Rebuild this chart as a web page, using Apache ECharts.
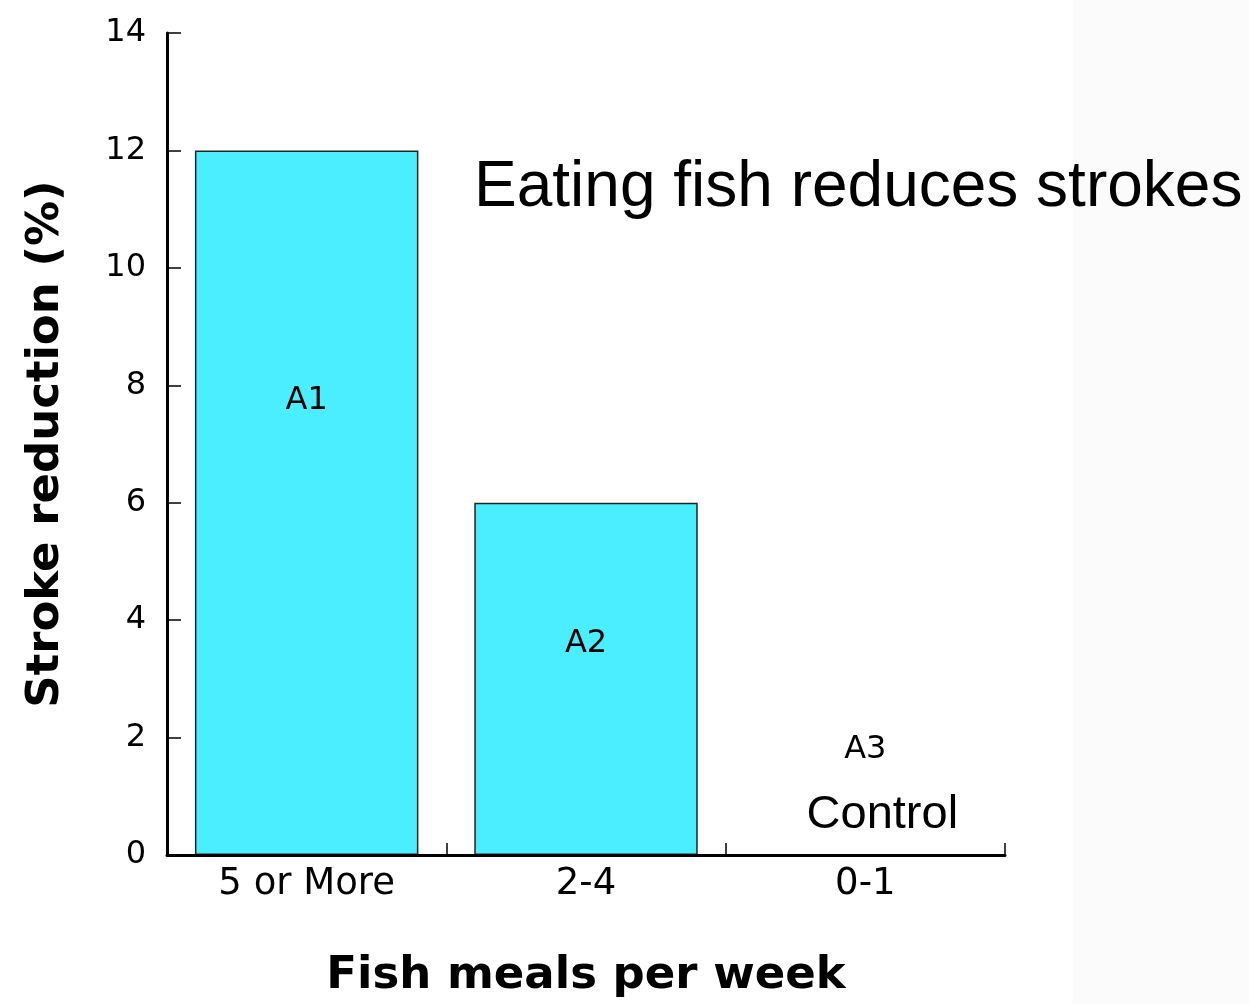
<!DOCTYPE html>
<html>
<head>
<meta charset="utf-8">
<title>Eating fish reduces strokes</title>
<script src="https://cdn.jsdelivr.net/npm/echarts@6/dist/echarts.min.js"></script>
<style>
  html, body { margin: 0; padding: 0; background: #ffffff; }
  #chart { width: 1249px; height: 1004px; }
</style>
</head>
<body>
<div id="chart"></div>
<script>
// Fish meal groups and the stroke reduction measured in each
const categories = ['5 or More', '2-4', '0-1'];
const strokeReduction = [12, 6, 0];
const groupLabels = ['A1', 'A2', 'A3'];
const yTicks = [0, 2, 4, 6, 8, 10, 12, 14];

const handFont = '"DejaVu Sans", sans-serif';
const plainFont = '"Liberation Sans", Arial, sans-serif';

const chart = echarts.init(document.getElementById('chart'), null, { renderer: 'canvas' });

// label placement per bar: inside the two tall bars, above the empty control bar
const labelPlacement = [
  { position: ['50%', '35.5%'] },
  { position: ['50%', '40%'] },
  { position: 'top', distance: 72 }
];

const option = {
  animation: false,
  backgroundColor: '#ffffff',
  title: {
    text: 'Eating fish reduces strokes',
    left: 469,
    top: 150,
    textStyle: { fontFamily: plainFont, fontSize: 64, fontWeight: 'normal', color: '#000', lineHeight: 66 }
  },
  graphic: [
    { type: 'rect', z: -10, silent: true, shape: { x: 1073, y: 0, width: 176, height: 1004 }, style: { fill: '#fbfbfb' } }
  ],
  grid: { left: 167, right: 244, top: 33, bottom: 149, containLabel: false, outerBoundsMode: 'none' },
  xAxis: {
    type: 'category',
    data: categories,
    boundaryGap: true,
    name: 'Fish meals per week',
    nameLocation: 'middle',
    nameGap: 99,
    nameTextStyle: { fontFamily: handFont, fontSize: 45, fontWeight: 'bold', color: '#000' },
    axisLine: { lineStyle: { color: '#000', width: 3 } },
    axisTick: { show: true, inside: true, length: 12, lineStyle: { color: '#000', width: 1.5 } },
    axisLabel: { fontFamily: handFont, fontSize: 37, color: '#000', margin: 11 },
    splitLine: { show: false },
    z: 5
  },
  yAxis: {
    type: 'value',
    min: yTicks[0],
    max: yTicks[yTicks.length - 1],
    interval: yTicks[1] - yTicks[0],
    name: 'Stroke reduction (%)',
    nameLocation: 'middle',
    nameRotate: 90,
    nameGap: 98,
    nameTextStyle: { fontFamily: handFont, fontSize: 45, fontWeight: 'bold', color: '#000' },
    axisLine: { show: true, lineStyle: { color: '#000', width: 3 } },
    axisTick: { show: true, inside: true, length: 14, lineStyle: { color: '#000', width: 1.5 } },
    axisLabel: { fontFamily: handFont, fontSize: 32, color: '#000', margin: 21 },
    splitLine: { show: false },
    z: 5
  },
  series: [{
    type: 'bar',
    barWidth: '80%',
    z: 2,
    data: strokeReduction.map((v, i) => ({
      value: v,
      label: Object.assign({}, labelPlacement[i], {
        formatter: i === 2 ? '{a|' + groupLabels[i] + '}\n{c|Control}' : groupLabels[i]
      })
    })),
    itemStyle: { color: '#4aeeff', borderColor: '#222', borderWidth: 1.5 },
    label: {
      show: true,
      align: 'center',
      verticalAlign: 'middle',
      fontFamily: handFont,
      fontSize: 32,
      color: '#000',
      rich: {
        a: { fontFamily: handFont, fontSize: 32, color: '#000', lineHeight: 66 },
        c: { fontFamily: plainFont, fontSize: 47, color: '#000', lineHeight: 66, padding: [0, 0, 0, 34] }
      }
    }
  }]
};

chart.setOption(option);
</script>
</body>
</html>
